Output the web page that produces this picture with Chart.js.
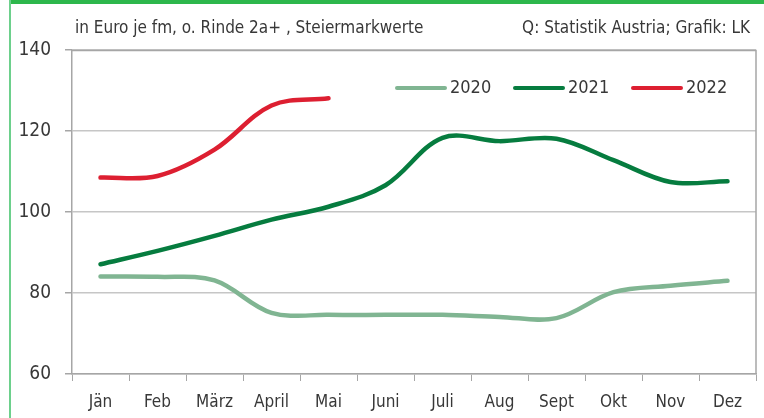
<!DOCTYPE html>
<html><head><meta charset="utf-8">
<script src="https://cdn.jsdelivr.net/npm/chart.js@4"></script>
<style>html,body{margin:0;padding:0;background:#fff}#wrap{width:764px;height:418px;position:relative}</style>
</head><body><div id="wrap"><canvas id="c" width="764" height="418"></canvas></div>
<script>
const categories = ['Jän','Feb','März','April','Mai','Juni','Juli','Aug','Sept','Okt','Nov','Dez'];
const values2020 = [84.1, 84.0, 83.1, 75.1, 74.6, 74.6, 74.6, 74.1, 73.8, 80.2, 81.8, 83.0];
const values2021 = [87.1, 90.4, 94.1, 98.1, 101.3, 106.6, 118.3, 117.5, 118.1, 112.8, 107.4, 107.6];
const values2022 = [108.5, 108.9, 115.4, 126.3, 128.1];
const seriesLabels = ['2020','2021','2022'];
const yTicks = [60, 80, 100, 120, 140];
const titleLeft = 'in Euro je fm, o. Rinde 2a+ , Steiermarkwerte';
const titleRight = 'Q: Statistik Austria; Grafik: LK';

const FONT = "'Liberation Sans Narrow','DejaVu Sans Condensed','Roboto',sans-serif";
const TXT = '#383838';
const colors = ['#80b592', '#067c3f', '#dd1f31'];

const decor = {
  id: 'decor',
  beforeDraw(chart) {
    const ctx = chart.ctx;
    ctx.save();
    ctx.fillStyle = '#fff';
    ctx.fillRect(0, 0, chart.width, chart.height);
    ctx.fillStyle = '#2db74c';
    ctx.fillRect(9, 0, chart.width - 9, 4);
    ctx.fillStyle = '#6dd08c';
    ctx.fillRect(9, 0, 2, chart.height);
    ctx.restore();
  },
  afterDraw(chart) {
    const ctx = chart.ctx, a = chart.chartArea;
    ctx.save();
    ctx.strokeStyle = '#a6a6a6';
    ctx.lineWidth = 1.5;
    ctx.beginPath();
    ctx.moveTo(a.left, a.top + 0.5);
    ctx.lineTo(a.right, a.top + 0.5);
    ctx.lineTo(a.right, a.bottom);
    ctx.stroke();
    ctx.fillStyle = TXT;
    ctx.font = '17px ' + FONT;
    ctx.textBaseline = 'middle';
    ctx.textAlign = 'left';
    ctx.fillText(titleLeft, 75, 29);
    ctx.textAlign = 'right';
    ctx.fillText(titleRight, 750, 29);
    const items = [[397, 450], [515, 568], [633, 686]];
    chart.data.datasets.forEach((ds, i) => {
      const [x0, tx] = items[i];
      ctx.strokeStyle = ds.borderColor;
      ctx.lineWidth = 4;
      ctx.lineCap = 'round';
      ctx.beginPath();
      ctx.moveTo(x0, 88);
      ctx.lineTo(x0 + 48, 88);
      ctx.stroke();
      ctx.fillStyle = TXT;
      ctx.textAlign = 'left';
      ctx.font = '18px ' + FONT;
      ctx.fillText(ds.label, tx, 88);
    });
    ctx.restore();
  }
};

const mk = (label, data, color) => ({
  label, data, borderColor: color, backgroundColor: color,
  borderWidth: 4.5, pointRadius: 0, tension: 0.35,
  borderCapStyle: 'round', borderJoinStyle: 'round', fill: false
});

new Chart(document.getElementById('c'), {
  type: 'line',
  data: {
    labels: categories,
    datasets: [
      mk(seriesLabels[0], values2020, colors[0]),
      mk(seriesLabels[1], values2021, colors[1]),
      mk(seriesLabels[2], values2022, colors[2])
    ]
  },
  options: {
    responsive: false,
    animation: false,
    devicePixelRatio: 1,
    layout: { padding: { left: 0, right: 8, top: 50, bottom: 0 } },
    plugins: { legend: { display: false }, tooltip: { enabled: false }, title: { display: false } },
    scales: {
      x: {
        offset: true,
        afterFit(s) { s.height = 44; },
        grid: { offset: true, drawOnChartArea: false, drawTicks: true, tickLength: 7, color: '#a6a6a6', lineWidth: 1 },
        border: { color: '#a6a6a6', width: 1.5 },
        ticks: { color: TXT, font: { family: FONT, size: 17 }, padding: 11, maxRotation: 0, autoSkip: false }
      },
      y: {
        min: 60, max: 140,
        afterFit(s) { s.width = 72; },
        afterBuildTicks(s) { s.ticks = yTicks.map(v => ({ value: v })); },
        grid: { color: '#c6c6c6', lineWidth: 1.5, tickLength: 7, tickColor: '#a6a6a6' },
        border: { color: '#a6a6a6', width: 1.5 },
        ticks: { color: TXT, font: { family: FONT, size: 19 }, padding: 14 }
      }
    }
  },
  plugins: [decor]
});
</script></body></html>
